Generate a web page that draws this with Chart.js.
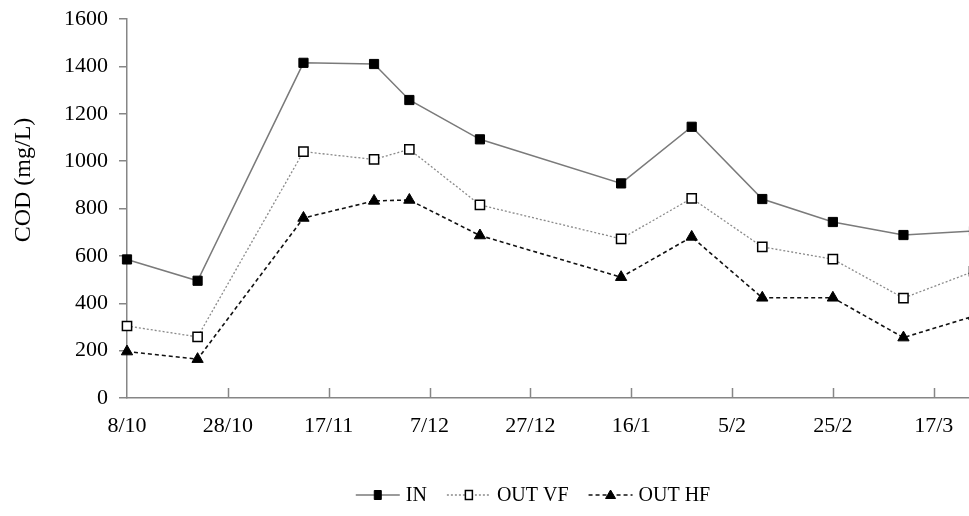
<!DOCTYPE html>
<html>
<head>
<meta charset="utf-8">
<script src="https://cdn.jsdelivr.net/npm/chart.js@4.4.1/dist/chart.umd.min.js"></script>
<style>
  html, body { margin: 0; padding: 0; background: #fff; }
</style>
</head>
<body>
<canvas id="graficoCOD" width="969" height="516"></canvas>
<script>
// dias contados a partir de 8/10
const diasAmostra = [0, 14, 35, 49, 56, 70, 98, 112, 126, 140, 154, 168];
const codIN = [585, 495, 1415, 1410, 1258, 1092, 906, 1145, 840, 743, 688, 705];
const codOutVF = [304, 258, 1040, 1007, 1050, 815, 672, 843, 638, 586, 422, 535];
const codOutHF = [196, 164, 760, 832, 836, 686, 510, 680, 423, 423, 255, 346];
const diasTicks = [0, 20, 40, 60, 80, 100, 120, 140, 160];
const rotulosX = ["8/10", "28/10", "17/11", "7/12", "27/12", "16/1", "5/2", "25/2", "17/3"];

const fonte = "'Liberation Serif', 'Times New Roman', serif";
const corEixo = "#868686";

function pontos(valores) {
  return valores.map((v, i) => ({ x: diasAmostra[i], y: v }));
}

// marcas do eixo x viradas para dentro
const marcasX = {
  id: "marcasX",
  beforeDatasetsDraw(chart) {
    const ctx = chart.ctx;
    const x = chart.scales.x;
    const base = chart.chartArea.bottom;
    ctx.save();
    ctx.strokeStyle = corEixo;
    ctx.lineWidth = 1.5;
    diasTicks.forEach((d) => {
      if (d === 0) return;
      const px = Math.round(x.getPixelForValue(d)) + 0.5;
      ctx.beginPath();
      ctx.moveTo(px, base);
      ctx.lineTo(px, base - 10);
      ctx.stroke();
    });
    ctx.restore();
  },
};

// titulo do eixo y e legenda
const extras = {
  id: "extras",
  afterDraw(chart) {
    const ctx = chart.ctx;
    ctx.save();
    ctx.translate(24, 180);
    ctx.rotate(-Math.PI / 2);
    ctx.font = "24px " + fonte;
    ctx.fillStyle = "#000";
    ctx.textAlign = "center";
    ctx.textBaseline = "middle";
    ctx.fillText("COD (mg/L)", 0, 0);
    ctx.restore();

    // legenda
    ctx.save();
    ctx.font = "20px " + fonte;
    const linha = 44, gapTexto = 6, gapItem = 20;
    const ds = chart.data.datasets;
    let total = 0;
    ds.forEach((d, i) => {
      total += linha + gapTexto + ctx.measureText(d.label).width;
      if (i < ds.length - 1) total += gapItem;
    });
    let x = 533 - total / 2;
    const y = 495;
    ds.forEach((d) => {
      ctx.strokeStyle = d.borderColor;
      ctx.lineWidth = d.borderWidth;
      ctx.setLineDash(d.borderDash || []);
      ctx.beginPath();
      ctx.moveTo(x, y);
      ctx.lineTo(x + linha, y);
      ctx.stroke();
      ctx.setLineDash([]);
      const cx = x + linha / 2;
      ctx.fillStyle = d.pointBackgroundColor;
      ctx.strokeStyle = d.pointBorderColor;
      ctx.lineWidth = d.pointBorderWidth;
      ctx.beginPath();
      if (d.pointStyle === "triangle") {
        ctx.moveTo(cx, y - 5);
        ctx.lineTo(cx + 5, y + 3.5);
        ctx.lineTo(cx - 5, y + 3.5);
        ctx.closePath();
      } else {
        ctx.rect(cx - 3.5, y - 4.5, 7, 9);
      }
      ctx.fill();
      ctx.stroke();
      x += linha + gapTexto;
      ctx.fillStyle = "#000";
      ctx.textAlign = "left";
      ctx.textBaseline = "middle";
      ctx.fillText(d.label, x, y + 1);
      x += ctx.measureText(d.label).width + gapItem;
    });
    ctx.restore();
  },
};

const ctxCOD = document.getElementById("graficoCOD").getContext("2d");
const graficoCOD = new Chart(ctxCOD, {
  type: "line",
  data: {
    datasets: [
      {
        label: "IN",
        data: pontos(codIN),
        borderColor: "#7a7a7a",
        borderWidth: 1.5,
        pointStyle: "rect",
        pointRadius: 6.5,
        pointBackgroundColor: "#000",
        pointBorderColor: "#000",
        pointBorderWidth: 1,
        clip: { left: 12, top: 12, right: 0, bottom: 12 },
      },
      {
        label: "OUT VF",
        data: pontos(codOutVF),
        borderColor: "#8a8a8a",
        borderWidth: 1.3,
        borderDash: [2, 2],
        pointStyle: "rect",
        pointRadius: 6.5,
        pointBackgroundColor: "#fff",
        pointBorderColor: "#000",
        pointBorderWidth: 1.5,
        clip: { left: 12, top: 12, right: 0, bottom: 12 },
      },
      {
        label: "OUT HF",
        data: pontos(codOutHF),
        borderColor: "#111",
        borderWidth: 1.6,
        borderDash: [4, 3],
        pointStyle: "triangle",
        pointRadius: 6.5,
        pointBackgroundColor: "#000",
        pointBorderColor: "#000",
        pointBorderWidth: 1,
        clip: { left: 12, top: 12, right: 0, bottom: 12 },
      },
    ],
  },
  options: {
    responsive: false,
    animation: false,
    layout: {
      autoPadding: false,
      padding: { top: 19, right: 0, left: 0, bottom: 0 },
    },
    plugins: {
      legend: { display: false },
      tooltip: { enabled: false },
    },
    scales: {
      x: {
        type: "linear",
        min: 0,
        max: 167,
        afterBuildTicks: (s) => {
          s.ticks = diasTicks.map((v) => ({ value: v }));
        },
        afterFit: (s) => {
          s.height = 118;
          s.paddingLeft = 0;
          s.paddingRight = 0;
        },
        grid: { display: false, drawTicks: false },
        border: { color: corEixo, width: 1.5 },
        ticks: {
          autoSkip: false,
          maxRotation: 0,
          padding: 15,
          color: "#000",
          font: { family: fonte, size: 22 },
          callback: (v) => rotulosX[diasTicks.indexOf(v)],
        },
      },
      y: {
        min: 0,
        max: 1600,
        afterFit: (s) => {
          s.width = 127;
          s.paddingTop = 0;
          s.paddingBottom = 0;
        },
        grid: {
          drawOnChartArea: false,
          tickLength: 8,
          color: corEixo,
          lineWidth: 1.5,
        },
        border: { color: corEixo, width: 1.5 },
        ticks: {
          stepSize: 200,
          padding: 11,
          color: "#000",
          font: { family: fonte, size: 22 },
          callback: (v) => String(v),
        },
      },
    },
  },
  plugins: [marcasX, extras],
});
</script>
</body>
</html>
